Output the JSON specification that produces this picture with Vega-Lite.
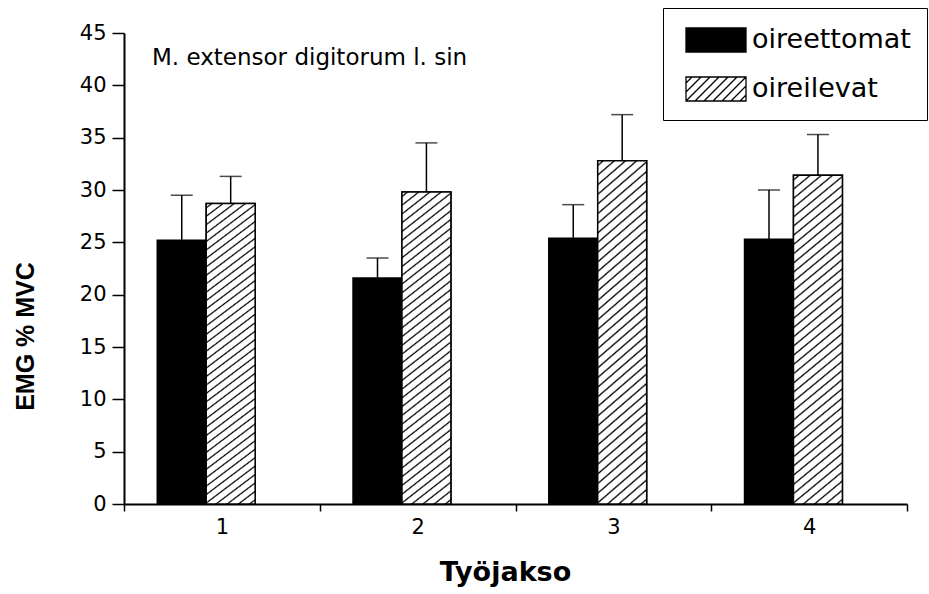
{
  "$schema": "https://vega.github.io/schema/vega-lite/v6.json",
  "width": 783,
  "height": 471,
  "autosize": {"type": "none"},
  "padding": {"left": 124, "top": 33, "right": 22, "bottom": 90},
  "background": "white",
  "config": {
    "font": "DejaVu Sans",
    "view": {"stroke": null}
  },
  "title": {
    "text": "M. extensor digitorum l. sin",
    "anchor": "start",
    "frame": "group",
    "orient": "top",
    "offset": 0,
    "baseline": "alphabetic",
    "dx": 28,
    "dy": 80,
    "font": "DejaVu Sans",
    "fontSize": 23,
    "fontWeight": "normal",
    "color": "black"
  },
  "data": {
    "values": [
      {"jakso": "1", "ryhma": "oireettomat", "keskiarvo": 25.2, "ylaraja": 29.5},
      {"jakso": "1", "ryhma": "oireilevat", "keskiarvo": 28.7, "ylaraja": 31.3},
      {"jakso": "2", "ryhma": "oireettomat", "keskiarvo": 21.6, "ylaraja": 23.5},
      {"jakso": "2", "ryhma": "oireilevat", "keskiarvo": 29.8, "ylaraja": 34.5},
      {"jakso": "3", "ryhma": "oireettomat", "keskiarvo": 25.4, "ylaraja": 28.6},
      {"jakso": "3", "ryhma": "oireilevat", "keskiarvo": 32.8, "ylaraja": 37.2},
      {"jakso": "4", "ryhma": "oireettomat", "keskiarvo": 25.3, "ylaraja": 30.0},
      {"jakso": "4", "ryhma": "oireilevat", "keskiarvo": 31.4, "ylaraja": 35.3}
    ]
  },
  "encoding": {
    "x": {
      "field": "jakso",
      "type": "ordinal",
      "title": "Työjakso",
      "scale": {"paddingInner": 0, "paddingOuter": 0},
      "axis": {
        "labelAngle": 0,
        "labelFont": "DejaVu Sans",
        "labelFontSize": 21,
        "labelColor": "black",
        "labelPadding": 5,
        "tickBand": "extent",
        "tickSize": 7,
        "tickWidth": 1.5,
        "tickColor": "black",
        "domainColor": "black",
        "domainWidth": 2,
        "titleFont": "DejaVu Sans",
        "titleFontSize": 27,
        "titleFontWeight": "bold",
        "titleColor": "black",
        "titleX": 381,
        "titleY": 76,
        "titleAlign": "center",
        "titleBaseline": "alphabetic"
      }
    },
    "xOffset": {
      "field": "ryhma",
      "type": "nominal",
      "scale": {"domain": ["oireettomat", "oireilevat"], "paddingInner": 0, "paddingOuter": 1.48, "align": 0.34}
    }
  },
  "layer": [
    {
      "mark": {"type": "bar", "stroke": "black", "strokeWidth": 1.5},
      "encoding": {
        "y": {
          "field": "keskiarvo",
          "type": "quantitative",
          "title": "EMG % MVC",
          "scale": {"domain": [0, 45], "nice": false},
          "axis": {
            "values": [0, 2.5, 5, 7.5, 10, 12.5, 15, 17.5, 20, 22.5, 25, 27.5, 30, 32.5, 35, 37.5, 40, 42.5, 45],
            "labelExpr": "datum.value % 5 === 0 ? datum.label : ''",
            "grid": false,
            "labelFont": "DejaVu Sans",
            "labelFontSize": 21,
            "labelColor": "black",
            "labelPadding": 6,
            "tickSize": {"condition": {"test": "datum.value % 5 === 0", "value": 12}, "value": 6},
            "tickWidth": 1.5,
            "tickColor": "black",
            "domainColor": "black",
            "domainWidth": 2,
            "titleFont": "Liberation Sans",
            "titleFontSize": 25,
            "titleFontWeight": "bold",
            "titleColor": "black",
            "titleX": -99,
            "titleY": 303,
            "titleAngle": -90,
            "titleAlign": "center",
            "titleBaseline": "middle"
          }
        },
        "fill": {
          "field": "ryhma",
          "type": "nominal",
          "scale": {"domain": ["oireettomat", "oireilevat"], "range": ["black", "white"]},
          "legend": {
            "title": null,
            "orient": "none",
            "legendX": 539,
            "legendY": -25,
            "fillColor": "white",
            "strokeColor": "black",
            "padding": 16,
            "symbolOffset": 21,
            "symbolSize": 900,
            "symbolType": "M-2,-0.8H2V0.8H-2Z M-2,-0.4L-1.6,-0.8 M-2,0.2L-1,-0.8 M-2,0.8L-0.4,-0.8 M-1.4,0.8L0.2,-0.8 M-0.8,0.8L0.8,-0.8 M-0.2,0.8L1.4,-0.8 M0.4,0.8L2,-0.8 M1,0.8L2,-0.2 M1.6,0.8L2,0.4",
            "symbolStrokeColor": "black",
            "symbolStrokeWidth": 1.3,
            "labelFont": "DejaVu Sans",
            "labelFontSize": 27,
            "labelColor": "black",
            "labelOffset": 20,
            "labelLimit": 400,
            "rowPadding": 18
          }
        }
      }
    },
    {
      "transform": [{"filter": "datum.ryhma === 'oireilevat'"}],
      "mark": {
        "type": "bar",
        "stroke": "black",
        "strokeWidth": 1.5,
        "fill": {
          "gradient": "linear",
          "x1": 0, "y1": 0, "x2": 0.1361, "y2": 1.1063,
          "stops": [
            {"offset": 0.008, "color": "#fff"}, {"offset": 0.0125, "color": "#000"}, {"offset": 0.017, "color": "#fff"},
            {"offset": 0.033, "color": "#fff"}, {"offset": 0.0375, "color": "#000"}, {"offset": 0.042, "color": "#fff"},
            {"offset": 0.058, "color": "#fff"}, {"offset": 0.0625, "color": "#000"}, {"offset": 0.067, "color": "#fff"},
            {"offset": 0.083, "color": "#fff"}, {"offset": 0.0875, "color": "#000"}, {"offset": 0.092, "color": "#fff"},
            {"offset": 0.108, "color": "#fff"}, {"offset": 0.1125, "color": "#000"}, {"offset": 0.117, "color": "#fff"},
            {"offset": 0.133, "color": "#fff"}, {"offset": 0.1375, "color": "#000"}, {"offset": 0.142, "color": "#fff"},
            {"offset": 0.158, "color": "#fff"}, {"offset": 0.1625, "color": "#000"}, {"offset": 0.167, "color": "#fff"},
            {"offset": 0.183, "color": "#fff"}, {"offset": 0.1875, "color": "#000"}, {"offset": 0.192, "color": "#fff"},
            {"offset": 0.208, "color": "#fff"}, {"offset": 0.2125, "color": "#000"}, {"offset": 0.217, "color": "#fff"},
            {"offset": 0.233, "color": "#fff"}, {"offset": 0.2375, "color": "#000"}, {"offset": 0.242, "color": "#fff"},
            {"offset": 0.258, "color": "#fff"}, {"offset": 0.2625, "color": "#000"}, {"offset": 0.267, "color": "#fff"},
            {"offset": 0.283, "color": "#fff"}, {"offset": 0.2875, "color": "#000"}, {"offset": 0.292, "color": "#fff"},
            {"offset": 0.308, "color": "#fff"}, {"offset": 0.3125, "color": "#000"}, {"offset": 0.317, "color": "#fff"},
            {"offset": 0.333, "color": "#fff"}, {"offset": 0.3375, "color": "#000"}, {"offset": 0.342, "color": "#fff"},
            {"offset": 0.358, "color": "#fff"}, {"offset": 0.3625, "color": "#000"}, {"offset": 0.367, "color": "#fff"},
            {"offset": 0.383, "color": "#fff"}, {"offset": 0.3875, "color": "#000"}, {"offset": 0.392, "color": "#fff"},
            {"offset": 0.408, "color": "#fff"}, {"offset": 0.4125, "color": "#000"}, {"offset": 0.417, "color": "#fff"},
            {"offset": 0.433, "color": "#fff"}, {"offset": 0.4375, "color": "#000"}, {"offset": 0.442, "color": "#fff"},
            {"offset": 0.458, "color": "#fff"}, {"offset": 0.4625, "color": "#000"}, {"offset": 0.467, "color": "#fff"},
            {"offset": 0.483, "color": "#fff"}, {"offset": 0.4875, "color": "#000"}, {"offset": 0.492, "color": "#fff"},
            {"offset": 0.508, "color": "#fff"}, {"offset": 0.5125, "color": "#000"}, {"offset": 0.517, "color": "#fff"},
            {"offset": 0.533, "color": "#fff"}, {"offset": 0.5375, "color": "#000"}, {"offset": 0.542, "color": "#fff"},
            {"offset": 0.558, "color": "#fff"}, {"offset": 0.5625, "color": "#000"}, {"offset": 0.567, "color": "#fff"},
            {"offset": 0.583, "color": "#fff"}, {"offset": 0.5875, "color": "#000"}, {"offset": 0.592, "color": "#fff"},
            {"offset": 0.608, "color": "#fff"}, {"offset": 0.6125, "color": "#000"}, {"offset": 0.617, "color": "#fff"},
            {"offset": 0.633, "color": "#fff"}, {"offset": 0.6375, "color": "#000"}, {"offset": 0.642, "color": "#fff"},
            {"offset": 0.658, "color": "#fff"}, {"offset": 0.6625, "color": "#000"}, {"offset": 0.667, "color": "#fff"},
            {"offset": 0.683, "color": "#fff"}, {"offset": 0.6875, "color": "#000"}, {"offset": 0.692, "color": "#fff"},
            {"offset": 0.708, "color": "#fff"}, {"offset": 0.7125, "color": "#000"}, {"offset": 0.717, "color": "#fff"},
            {"offset": 0.733, "color": "#fff"}, {"offset": 0.7375, "color": "#000"}, {"offset": 0.742, "color": "#fff"},
            {"offset": 0.758, "color": "#fff"}, {"offset": 0.7625, "color": "#000"}, {"offset": 0.767, "color": "#fff"},
            {"offset": 0.783, "color": "#fff"}, {"offset": 0.7875, "color": "#000"}, {"offset": 0.792, "color": "#fff"},
            {"offset": 0.808, "color": "#fff"}, {"offset": 0.8125, "color": "#000"}, {"offset": 0.817, "color": "#fff"},
            {"offset": 0.833, "color": "#fff"}, {"offset": 0.8375, "color": "#000"}, {"offset": 0.842, "color": "#fff"},
            {"offset": 0.858, "color": "#fff"}, {"offset": 0.8625, "color": "#000"}, {"offset": 0.867, "color": "#fff"},
            {"offset": 0.883, "color": "#fff"}, {"offset": 0.8875, "color": "#000"}, {"offset": 0.892, "color": "#fff"},
            {"offset": 0.908, "color": "#fff"}, {"offset": 0.9125, "color": "#000"}, {"offset": 0.917, "color": "#fff"},
            {"offset": 0.933, "color": "#fff"}, {"offset": 0.9375, "color": "#000"}, {"offset": 0.942, "color": "#fff"},
            {"offset": 0.958, "color": "#fff"}, {"offset": 0.9625, "color": "#000"}, {"offset": 0.967, "color": "#fff"},
            {"offset": 0.983, "color": "#fff"}, {"offset": 0.9875, "color": "#000"}, {"offset": 0.992, "color": "#fff"}
          ]
        }
      },
      "encoding": {
        "y": {"field": "keskiarvo", "type": "quantitative"}
      }
    },
    {
      "mark": {"type": "rule", "color": "black", "strokeWidth": 1.5},
      "encoding": {
        "y": {"field": "keskiarvo", "type": "quantitative"},
        "y2": {"field": "ylaraja"}
      }
    },
    {
      "mark": {"type": "tick", "color": "black", "size": 22, "thickness": 1.5},
      "encoding": {
        "y": {"field": "ylaraja", "type": "quantitative"}
      }
    }
  ]
}
